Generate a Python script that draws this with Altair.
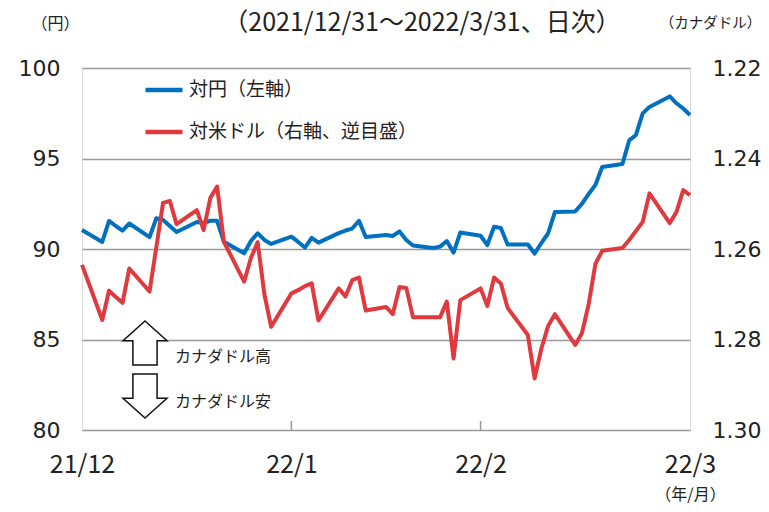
import altair as alt
import pandas as pd

# ---- data ----
dates = [
    "2021-12-31",
    "2022-01-03", "2022-01-04", "2022-01-05", "2022-01-06", "2022-01-07",
    "2022-01-10", "2022-01-11", "2022-01-12", "2022-01-13", "2022-01-14",
    "2022-01-17", "2022-01-18", "2022-01-19", "2022-01-20", "2022-01-21",
    "2022-01-24", "2022-01-25", "2022-01-26", "2022-01-27", "2022-01-28",
    "2022-01-31", "2022-02-01", "2022-02-02", "2022-02-03", "2022-02-04",
    "2022-02-07", "2022-02-08", "2022-02-09", "2022-02-10", "2022-02-11",
    "2022-02-14", "2022-02-15", "2022-02-16", "2022-02-17", "2022-02-18",
    "2022-02-21", "2022-02-22", "2022-02-23", "2022-02-24", "2022-02-25",
    "2022-02-28", "2022-03-01", "2022-03-02", "2022-03-03", "2022-03-04",
    "2022-03-07", "2022-03-08", "2022-03-09", "2022-03-10", "2022-03-11",
    "2022-03-14", "2022-03-15", "2022-03-16", "2022-03-17", "2022-03-18",
    "2022-03-21", "2022-03-22", "2022-03-23", "2022-03-24", "2022-03-25",
    "2022-03-28", "2022-03-29", "2022-03-30", "2022-03-31",
]

cad_jpy = [
    91.05,
    90.39, 91.55, 91.27, 91.01, 91.41,
    90.66, 91.70, 91.60, 91.27, 90.94,
    91.49, 91.44, 91.56, 91.56, 90.40,
    89.76, 90.44, 90.87, 90.50, 90.28,
    90.68, 90.39, 90.08, 90.61, 90.35,
    90.88, 91.02, 91.13, 91.56, 90.66,
    90.77, 90.72, 90.97, 90.50, 90.19,
    90.06, 90.13, 90.44, 89.80, 90.91,
    90.73, 90.22, 91.23, 91.16, 90.25,
    90.25, 89.75, 90.33, 90.87, 92.04,
    92.07, 92.49, 93.04, 93.54, 94.53,
    94.70, 96.00, 96.30, 97.49, 97.85,
    98.43, 98.05, 97.76, 97.40,
]

usd_cad = [
    1.2635,
    1.2757, 1.2692, 1.2706, 1.2719, 1.2643,
    1.2694, 1.2596, 1.2498, 1.2494, 1.2545,
    1.2514, 1.2558, 1.2487, 1.2462, 1.2584,
    1.2672, 1.2620, 1.2585, 1.2700, 1.2772,
    1.2698, 1.2691, 1.2682, 1.2676, 1.2758,
    1.2687, 1.2705, 1.2669, 1.2663, 1.2736,
    1.2728, 1.2744, 1.2684, 1.2686, 1.2751,
    1.2751, 1.2751, 1.2716, 1.2842, 1.2713,
    1.2687, 1.2726, 1.2663, 1.2676, 1.2730,
    1.2790, 1.2886, 1.2820, 1.2770, 1.2744,
    1.2812, 1.2786, 1.2722, 1.2633, 1.2604,
    1.2598, 1.2580, 1.2560, 1.2540, 1.2477,
    1.2543, 1.2518, 1.2470, 1.2481,
]

series_names = ["対円（左軸）", "対米ドル（右軸、逆目盛）"]
series_colors = ["#0070C0", "#E0393E"]

start_date = "2021-12-31"
tick_dates = ["2021-12-31", "2022-01-31", "2022-02-28", "2022-03-31"]
tick_labels = ["21/12", "22/1", "22/2", "22/3"]
inner_tick_dates = ["2022-01-31", "2022-02-28"]

left_ticks = [80, 85, 90, 95, 100]
right_ticks = [1.22, 1.24, 1.26, 1.28, 1.30]

title_text = "（2021/12/31～2022/3/31、日次）"
left_title = "（円）"
right_title = "（カナダドル）"
x_title = "（年/月）"
note_up = "カナダドル高"
note_down = "カナダドル安"

# ---- build tables ----
t0 = pd.Timestamp(start_date)
df = pd.DataFrame({"date": pd.to_datetime(dates), "jpy": cad_jpy, "usd": usd_cad})
df["day"] = (df["date"] - t0).dt.days

tick_days = [int((pd.Timestamp(d) - t0).days) for d in tick_dates]
inner_days = [int((pd.Timestamp(d) - t0).days) for d in inner_tick_dates]
label_expr = " : ".join(
    [f"datum.value == {d} ? '{l}'" for d, l in zip(tick_days[:-1], tick_labels[:-1])]
) + f" : '{tick_labels[-1]}'"

W, H = 608, 362
JP = "Noto Sans CJK JP"
NUM = "DejaVu Sans"
TXT = "#222222"
GRID = "#9a9a9a"

x_enc = alt.X(
    "day:Q",
    scale=alt.Scale(domain=[0, tick_days[-1]], nice=False, zero=False),
    axis=alt.Axis(
        values=tick_days, labelExpr=label_expr, grid=False, ticks=False, domain=False,
        labelFlush=False, labelOverlap=False, labelBound=False,
        labelFont=JP, labelFontSize=25, labelColor=TXT, labelPadding=22,
        title=x_title, titleFont=JP, titleFontSize=16, titleFontWeight="normal",
        titleColor=TXT, titleX=W, titleY=64, titleAlign="center", titleBaseline="middle",
        titleAngle=0,
    ),
)

legend = alt.Legend(
    title=None, orient="none", legendX=61, legendY=1, symbolType="stroke",
    symbolStrokeWidth=4.5, symbolSize=1369, labelFont=JP, labelFontSize=19,
    labelColor=TXT, labelOffset=4, rowPadding=11, padding=0, direction="vertical",
    labelLimit=500,
)
color_scale = alt.Scale(domain=series_names, range=series_colors)

base = alt.Chart(df)

blue = base.transform_calculate(series=f"'{series_names[0]}'").mark_line(
    strokeWidth=4, strokeJoin="round"
).encode(
    x=x_enc,
    y=alt.Y(
        "jpy:Q",
        scale=alt.Scale(domain=[80, 100], nice=False, zero=False),
        axis=alt.Axis(
            orient="left", values=left_ticks, grid=True, gridColor=GRID, gridWidth=1.5,
            ticks=False, domain=False, labelFont=NUM, labelFontSize=22, labelColor=TXT,
            labelPadding=22, title=left_title, titleAngle=0, titleX=-27, titleY=-45,
            titleAlign="center", titleBaseline="middle", titleFont=JP, titleFontSize=16,
            titleFontWeight="normal", titleColor=TXT,
        ),
    ),
    color=alt.Color("series:N", scale=color_scale, legend=legend),
)

red = base.transform_calculate(series=f"'{series_names[1]}'").mark_line(
    strokeWidth=4, strokeJoin="round"
).encode(
    x=x_enc,
    y=alt.Y(
        "usd:Q",
        scale=alt.Scale(domain=[1.22, 1.30], nice=False, zero=False, reverse=True),
        axis=alt.Axis(
            orient="right", values=right_ticks, format=".2f", grid=False, ticks=False,
            domain=False, labelFont=NUM, labelFontSize=22, labelColor=TXT,
            labelPadding=22, title=right_title, titleAngle=0, titleX=20, titleY=-45,
            titleAlign="center", titleBaseline="middle", titleFont=JP, titleFontSize=14.5,
            titleFontWeight="normal", titleColor=TXT,
        ),
    ),
    color=alt.Color("series:N", scale=color_scale, legend=legend),
)

ticks = alt.Chart(pd.DataFrame({"day": inner_days})).mark_rule(
    color=GRID, strokeWidth=1.5
).encode(x="day:Q", y=alt.value(H), y2=alt.value(H - 9))

up_path = "M0,-1 L1,-0.1 L0.55,-0.1 L0.55,1 L-0.55,1 L-0.55,-0.1 L-1,-0.1 Z"
down_path = "M0,1 L1,0.1 L0.55,0.1 L0.55,-1 L-0.55,-1 L-0.55,0.1 L-1,0.1 Z"

arrow_up = alt.Chart(pd.DataFrame({"k": [0]})).mark_point(
    shape=up_path, filled=True, fill="white", stroke="#111111", strokeWidth=1.5,
    size=1936, opacity=1,
).encode(x=alt.value(63), y=alt.value(275))
arrow_down = alt.Chart(pd.DataFrame({"k": [0]})).mark_point(
    shape=down_path, filled=True, fill="white", stroke="#111111", strokeWidth=1.5,
    size=1936, opacity=1,
).encode(x=alt.value(63), y=alt.value(328))

txt_up = alt.Chart(pd.DataFrame({"t": [note_up]})).mark_text(
    align="left", baseline="middle", font=JP, fontSize=16, color=TXT
).encode(x=alt.value(93), y=alt.value(289), text="t:N")
txt_down = alt.Chart(pd.DataFrame({"t": [note_down]})).mark_text(
    align="left", baseline="middle", font=JP, fontSize=16, color=TXT
).encode(x=alt.value(93), y=alt.value(334), text="t:N")

chart = alt.layer(
    blue, red, ticks, arrow_up, arrow_down, txt_up, txt_down
).resolve_scale(
    y="independent"
).properties(
    width=W, height=H,
    autosize=alt.AutoSizeParams(type="none"),
    padding={"left": 74, "top": 60, "right": 71, "bottom": 74},
    title=alt.TitleParams(
        text=title_text, font=JP, fontSize=25, fontWeight="normal", color=TXT,
        anchor="middle", frame="group", dx=36, offset=-33, baseline="middle",
    ),
).configure_view(
    stroke="#8a8a8a", strokeWidth=1.5
).configure(background="white")

chart.save("out.html", embed_options={"renderer": "svg", "actions": False})
